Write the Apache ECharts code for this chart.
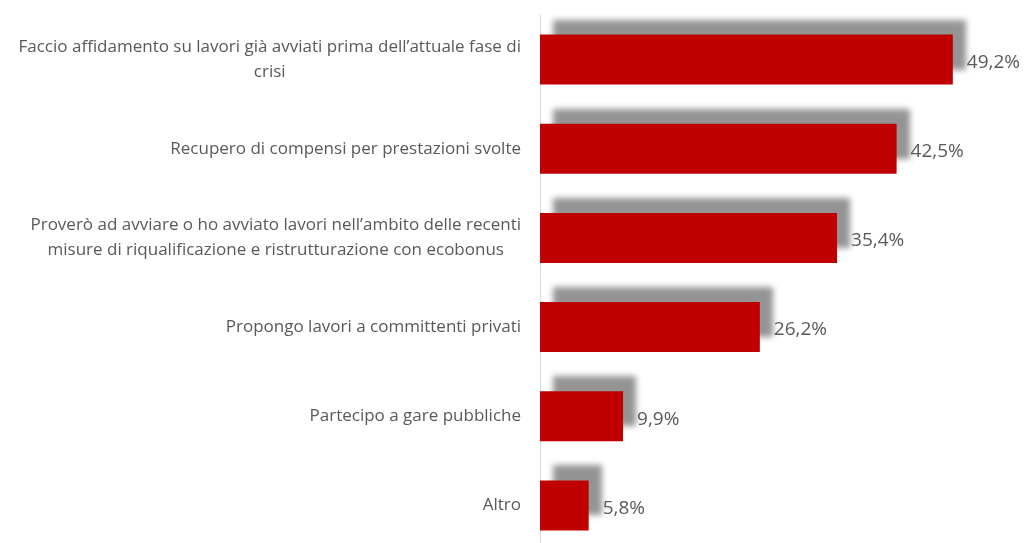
<!DOCTYPE html>
<html>
<head>
<meta charset="utf-8">
<script src="https://cdn.jsdelivr.net/npm/echarts@6/dist/echarts.min.js"></script>
<style>
html,body{margin:0;padding:0;background:#fff;}
#chart{width:1024px;height:543px;}
</style>
</head>
<body>
<div id="chart"></div>
<script>
const categories = [
  "Faccio affidamento su lavori già avviati prima dell’attuale fase di\ncrisi",
  "Recupero di compensi per prestazioni svolte",
  "Proverò ad avviare o ho avviato lavori nell’ambito delle recenti\nmisure di riqualificazione e ristrutturazione con ecobonus",
  "Propongo lavori a committenti privati",
  "Partecipo a gare pubbliche",
  "Altro"
];
const values = [49.2, 42.5, 35.4, 26.2, 9.9, 5.8];

const chart = echarts.init(document.getElementById('chart'), null, {renderer: 'canvas'});
chart.setOption({
  animation: false,
  backgroundColor: '#ffffff',
  grid: { left: 540, width: 461.5, top: 15, height: 535, containLabel: false, outerBoundsMode: 'none' },
  xAxis: {
    type: 'value', min: 0, max: 55,
    show: false
  },
  yAxis: {
    type: 'category',
    inverse: true,
    data: categories,
    axisLine: { show: true, lineStyle: { color: '#d9d9d9', width: 1 } },
    axisTick: { show: false },
    axisLabel: {
      margin: 19,
      align: 'right',
      fontFamily: 'Open Sans',
      fontSize: 17,
      color: '#595959',
      lineHeight: 25,
      formatter: function (v) {
        return v.split('\n').map(function (l) { return '{c|' + l + '}'; }).join('\n');
      },
      rich: {
        c: { align: 'center', fontFamily: 'Open Sans', fontSize: 17, color: '#595959', lineHeight: 25 }
      }
    }
  },
  series: [{
    type: 'bar',
    data: values,
    barWidth: 50,
    itemStyle: {
      color: '#C00000',
      shadowColor: 'rgba(0,0,0,0.42)',
      shadowBlur: 6,
      shadowOffsetX: 13,
      shadowOffsetY: -15
    },
    label: {
      show: true,
      position: 'right',
      distance: 14,
      offset: [0, 3],
      fontFamily: 'Open Sans',
      fontSize: 19,
      color: '#595959',
      formatter: function (p) { return p.value.toFixed(1).replace('.', ',') + '%'; }
    }
  }]
});
</script>
</body>
</html>
